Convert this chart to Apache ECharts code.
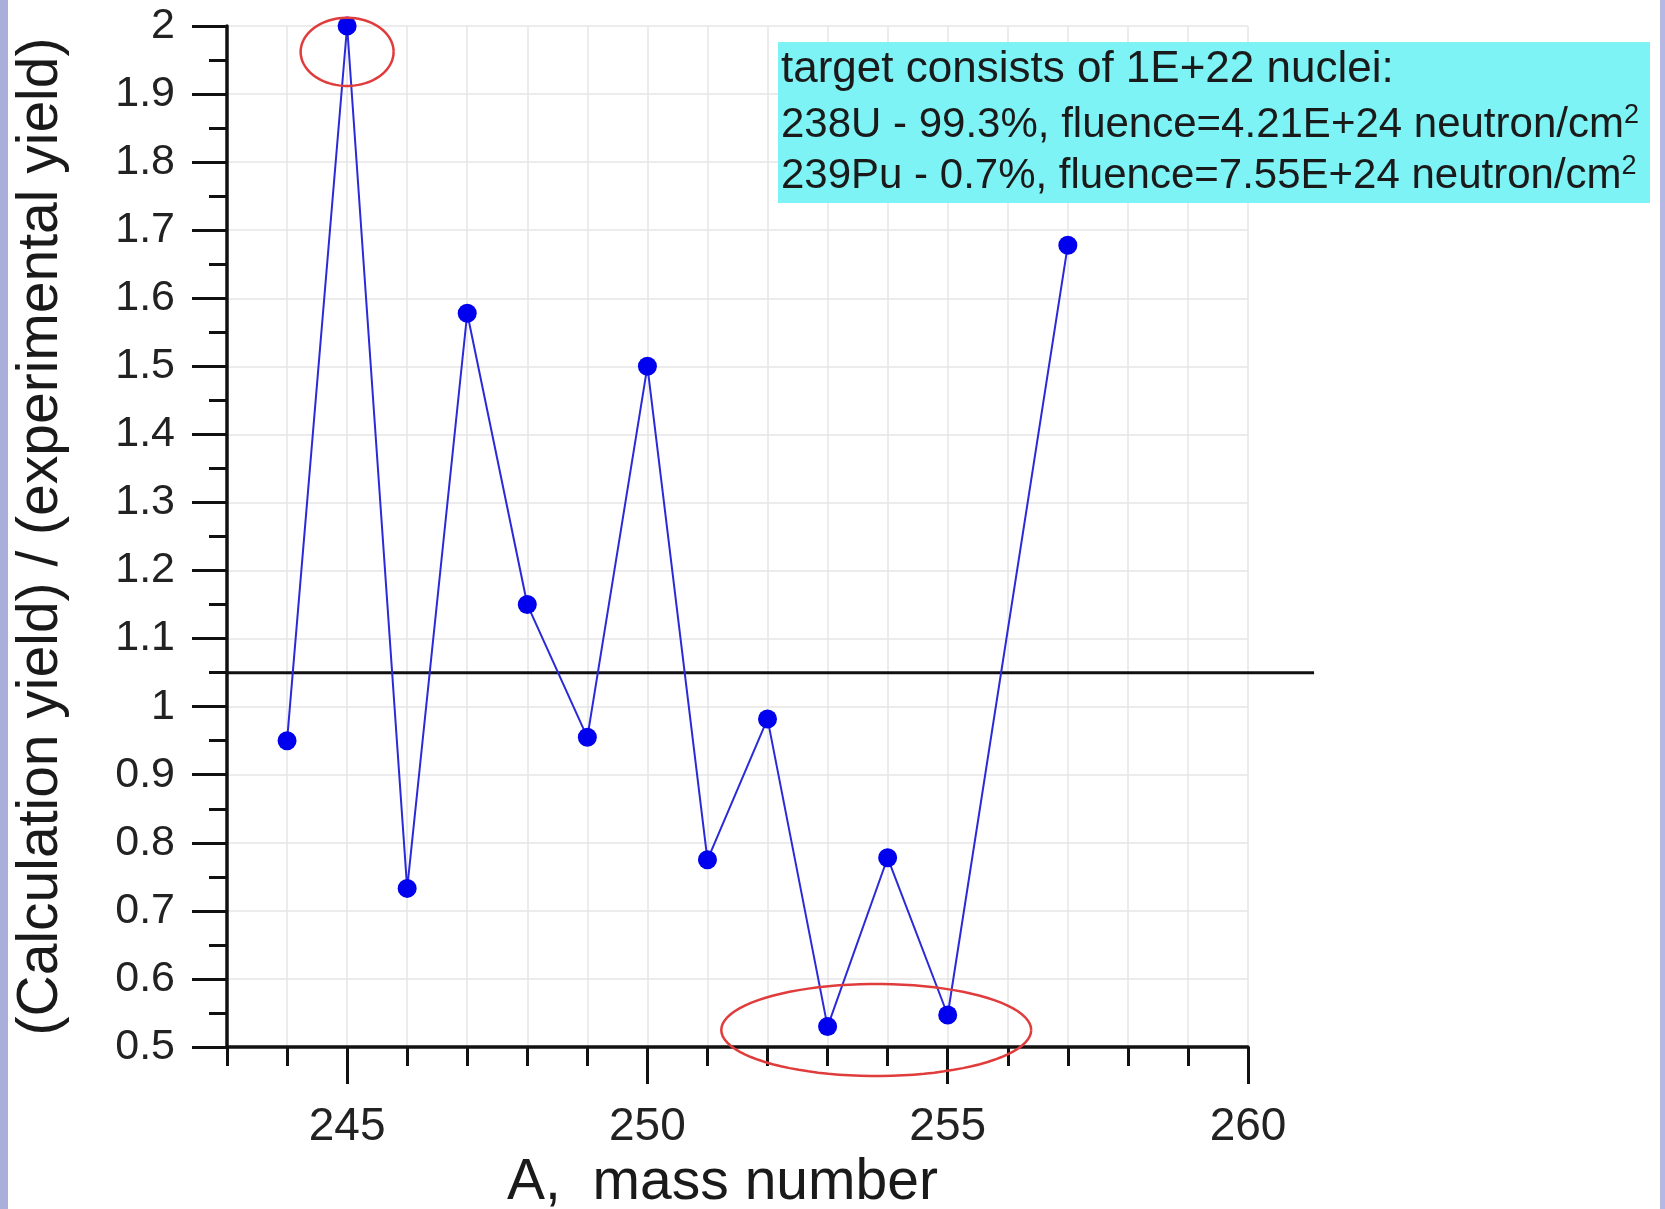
<!DOCTYPE html>
<html>
<head>
<meta charset="utf-8">
<script src="https://cdn.jsdelivr.net/npm/echarts@6/dist/echarts.min.js"></script>
<style>
  html, body { margin: 0; padding: 0; background: #fff; }
  #chart { width: 1665px; height: 1209px; }
</style>
</head>
<body>
<div id="chart"></div>
<script>
// values
const massNumbers = [244, 245, 246, 247, 248, 249, 250, 251, 252, 253, 254, 255, 257]
const yieldRatio = [0.95, 2.0, 0.733, 1.578, 1.15, 0.955, 1.5, 0.775, 0.982, 0.53, 0.778, 0.547, 1.678]
const xMajorTicks = [245, 250, 255, 260]
const refLevel = 1.05
const refLineX = [243, 261.1]
// red ellipses: [centre A, centre ratio, half width A, half height ratio]
const ellipses = [
  [245, 1.962, 0.774, 0.05],
  [253.81, 0.525, 2.58, 0.0676]
]
const noteLines = [
  '{h|target consists of 1E+22 nuclei:}',
  '{t|238U - 99.3%, fluence=4.21E+24 neutron/cm}{s|2}',
  '{t|239Pu - 0.7%, fluence=7.55E+24 neutron/cm}{s|2}'
]

const FONT = 'Liberation Sans, Arial, sans-serif'
const TEXT = '#1a1a1a'
const chart = echarts.init(document.getElementById('chart'))

const option = {
  backgroundColor: '#fff',
  animation: false,
  grid: { left: 227, right: 417, top: 26, bottom: 162, outerBoundsMode: 'none' },
  xAxis: [
    {
      type: 'value',
      min: 243,
      max: 260,
      position: 'bottom',
      name: 'A,  mass number',
      nameLocation: 'middle',
      nameGap: 108,
      nameTextStyle: { fontSize: 57, color: TEXT, fontFamily: FONT, padding: [0, 30, 0, 0] },
      axisLine: { show: true, onZero: false, lineStyle: { color: '#111', width: 3.5 } },
      axisTick: { show: true, customValues: xMajorTicks, length: 37, lineStyle: { color: '#111', width: 3 } },
      axisLabel: { customValues: xMajorTicks, margin: 57, fontSize: 46, color: '#222', fontFamily: FONT },
      splitLine: { show: false }
    },
    {
      // minor ticks and vertical grid every mass unit
      type: 'value',
      min: 243,
      max: 260,
      interval: 1,
      position: 'bottom',
      axisLine: { show: false },
      axisTick: { show: true, length: 19, lineStyle: { color: '#111', width: 3 } },
      axisLabel: { show: false },
      splitLine: { show: true, lineStyle: { color: '#e6e6e6', width: 1.5 } }
    }
  ],
  yAxis: {
    type: 'value',
    min: 0.5,
    max: 2,
    interval: 0.1,
    name: '(Calculation yield) / (experimental yield)',
    nameLocation: 'middle',
    nameGap: 157,
    nameTextStyle: { fontSize: 57, color: TEXT, fontFamily: FONT },
    axisLine: { show: true, onZero: false, lineStyle: { color: '#111', width: 3.5 } },
    axisTick: { show: true, length: 35, lineStyle: { color: '#111', width: 3 } },
    minorTick: { show: true, splitNumber: 2, length: 18, lineStyle: { color: '#111', width: 3 } },
    axisLabel: {
      margin: 52, fontSize: 43, color: '#222', fontFamily: FONT,
      formatter: v => String(Math.round(v * 10) / 10)
    },
    splitLine: { show: true, lineStyle: { color: '#e6e6e6', width: 1.5 } }
  },
  series: [
    {
      // horizontal reference level, runs a bit past the axis end
      type: 'custom',
      name: 'reference',
      data: [[refLineX[0], refLevel, refLineX[1]]],
      clip: false,
      z: 3,
      renderItem: (params, api) => {
        const p0 = api.coord([api.value(0), api.value(1)])
        const p1 = api.coord([api.value(2), api.value(1)])
        return {
          type: 'line',
          shape: { x1: p0[0], y1: p0[1], x2: p1[0], y2: p1[1] },
          style: { stroke: '#111', lineWidth: 3 }
        }
      }
    },
    {
      type: 'line',
      name: 'ratio',
      data: massNumbers.map((m, i) => [m, yieldRatio[i]]),
      symbol: 'circle',
      symbolSize: 19,
      itemStyle: { color: '#0000ee' },
      lineStyle: { color: '#2a2ad8', width: 2 },
      z: 4
    },
    {
      type: 'custom',
      name: 'ellipses',
      data: ellipses,
      clip: false,
      z: 5,
      renderItem: (params, api) => {
        const cx = api.value(0), cy = api.value(1), rx = api.value(2), ry = api.value(3)
        const pts = []
        for (let i = 0; i <= 90; i++) {
          const t = i / 90 * Math.PI * 2
          pts.push(api.coord([cx + rx * Math.cos(t), cy + ry * Math.sin(t)]))
        }
        return {
          type: 'polyline',
          shape: { points: pts },
          style: { stroke: '#e03c3c', lineWidth: 2.5, fill: null }
        }
      }
    }
  ],
  graphic: [
    { type: 'rect', left: 0, top: 0, z: 100, shape: { width: 8, height: 1209 }, style: { fill: '#aaaedb' } },
    { type: 'rect', right: 0, top: 0, z: 100, shape: { width: 5, height: 1209 }, style: { fill: '#b4b8e2' } },
    {
      type: 'group',
      left: 778,
      top: 42,
      z: 100,
      children: [
        { type: 'rect', z: 100, shape: { x: 0, y: 0, width: 872, height: 161 }, style: { fill: '#7ef3f5' } },
        ...noteLines.map((line, i) => ({
          type: 'text',
          z: 101,
          x: 3,
          y: [28, 83, 134][i],
          style: {
            text: line,
            verticalAlign: 'middle',
            rich: {
              h: { fontSize: 44, fontFamily: FONT, fill: TEXT, lineHeight: 46 },
              t: { fontSize: 42, fontFamily: FONT, fill: TEXT, lineHeight: 46 },
              s: { fontSize: 27, fontFamily: FONT, fill: TEXT, verticalAlign: 'top', lineHeight: 46 }
            }
          }
        }))
      ]
    }
  ]
}

chart.setOption(option)
window.addEventListener('resize', () => chart.resize())
</script>
</body>
</html>
